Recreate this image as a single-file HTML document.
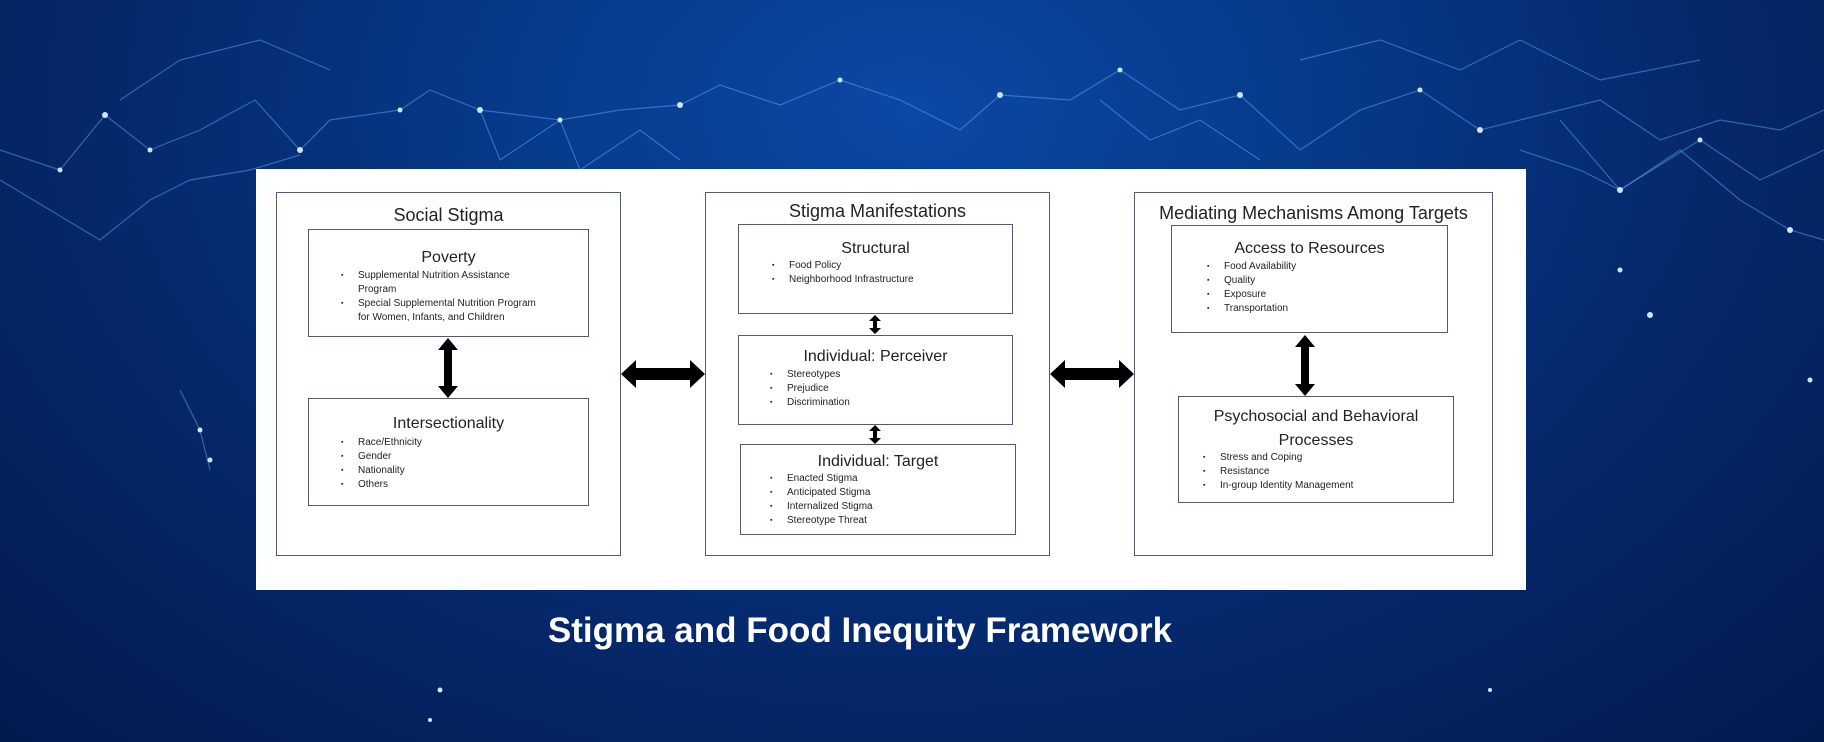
<!DOCTYPE html>
<html><head><meta charset="utf-8"><style>
*{margin:0;padding:0;box-sizing:border-box}
body{width:1824px;height:742px;overflow:hidden;position:relative;font-family:"Liberation Sans",sans-serif;
background:radial-gradient(ellipse at 50% 15%,#0a48a6 0%,#073a8a 30%,#05296c 60%,#031a4e 100%);}
.bg{position:absolute;left:0;top:0}
.panel{position:absolute;left:256px;top:169px;width:1270px;height:421px;background:#fff}
.b{position:absolute;border:1.5px solid #525b72;background:#fff}
.t{position:absolute;width:100%;text-align:center;color:#222;left:0}
.ot{font-size:18px}
.st{font-size:16px}
ul{position:absolute;list-style:none;font-size:10px;color:#222}
li{height:14px;line-height:14px;position:relative;white-space:nowrap}
li:before{content:"▪";position:absolute;left:-17px;font-size:7px}
.nb:before{content:""}
.title{position:absolute;left:530px;top:611px;width:660px;text-align:center;color:#fff;font-weight:bold;font-size:35px;white-space:nowrap}
</style></head><body>
<svg class="bg" width="1824" height="742">
<g stroke="#5aa8ff" stroke-opacity="0.5" stroke-width="1.2" fill="none">
<polyline points="0,150 60,170 105,115 150,150 200,130 255,100 300,150 330,120 400,110 430,90 480,110 560,120 620,110 680,105 720,85 780,105 840,80 900,100 960,130 1000,95 1070,100 1120,70 1180,110 1240,95 1300,150 1360,110 1420,90 1480,130 1540,115 1600,100 1660,140 1720,120 1780,130 1824,110"/>
<polyline points="0,180 50,210 100,240 150,200 190,180 250,170 300,155"/>
<polyline points="1520,150 1580,170 1620,190 1680,150 1740,200 1790,230 1824,240"/>
<polyline points="480,110 500,160 560,120 580,170 640,130 680,160"/>
<polyline points="1100,100 1150,140 1200,120 1260,160"/>
<polyline points="1560,120 1620,190 1700,140 1760,180 1824,150"/>
<polyline points="120,100 180,60 260,40 330,70"/>
<polyline points="1300,60 1380,40 1460,70 1520,40 1600,80 1700,60"/>
<polyline points="180,390 200,430 210,470"/>
</g>
<g fill="#cfe6ff">
<circle cx="105" cy="115" r="3"/><circle cx="150" cy="150" r="2.5"/><circle cx="300" cy="150" r="3"/><circle cx="400" cy="110" r="2.5"/><circle cx="480" cy="110" r="3"/><circle cx="560" cy="120" r="2.5"/><circle cx="680" cy="105" r="3"/><circle cx="840" cy="80" r="2.5"/><circle cx="1000" cy="95" r="3"/><circle cx="1120" cy="70" r="2.5"/><circle cx="1240" cy="95" r="3"/><circle cx="1420" cy="90" r="2.5"/><circle cx="1480" cy="130" r="3"/><circle cx="1620" cy="190" r="3"/><circle cx="1700" cy="140" r="2.5"/><circle cx="1790" cy="230" r="3"/><circle cx="1650" cy="315" r="3"/><circle cx="1620" cy="270" r="2.5"/><circle cx="60" cy="170" r="2.5"/><circle cx="200" cy="430" r="2.5"/><circle cx="210" cy="460" r="2.5"/><circle cx="440" cy="690" r="2.5"/><circle cx="430" cy="720" r="2"/><circle cx="1490" cy="690" r="2"/><circle cx="1810" cy="380" r="2.5"/>
</g>
</svg>
<div class="panel"></div>

<div class="b" style="left:276px;top:192px;width:345px;height:364px"><div class="t ot" style="top:12px">Social Stigma</div></div>
<div class="b" style="left:308px;top:229px;width:281px;height:108px"><div class="t st" style="top:19px">Poverty</div>
<ul style="left:49px;top:39px"><li>Supplemental Nutrition Assistance</li><li class="nb">Program</li><li>Special Supplemental Nutrition Program</li><li class="nb">for Women, Infants, and Children</li></ul></div>
<div class="b" style="left:308px;top:398px;width:281px;height:108px"><div class="t st" style="top:16px">Intersectionality</div>
<ul style="left:49px;top:37px"><li>Race/Ethnicity</li><li>Gender</li><li>Nationality</li><li>Others</li></ul></div>

<div class="b" style="left:705px;top:192px;width:345px;height:364px"><div class="t ot" style="top:8px">Stigma Manifestations</div></div>
<div class="b" style="left:738px;top:224px;width:275px;height:90px"><div class="t st" style="top:15px">Structural</div>
<ul style="left:50px;top:34px"><li>Food Policy</li><li>Neighborhood Infrastructure</li></ul></div>
<div class="b" style="left:738px;top:335px;width:275px;height:90px"><div class="t st" style="top:12px">Individual: Perceiver</div>
<ul style="left:48px;top:32px"><li>Stereotypes</li><li>Prejudice</li><li>Discrimination</li></ul></div>
<div class="b" style="left:740px;top:444px;width:276px;height:91px"><div class="t st" style="top:8px">Individual: Target</div>
<ul style="left:46px;top:27px"><li>Enacted Stigma</li><li>Anticipated Stigma</li><li>Internalized Stigma</li><li>Stereotype Threat</li></ul></div>

<div class="b" style="left:1134px;top:192px;width:359px;height:364px"><div class="t ot" style="top:10px">Mediating Mechanisms Among Targets</div></div>
<div class="b" style="left:1171px;top:225px;width:277px;height:108px"><div class="t st" style="top:14px">Access to Resources</div>
<ul style="left:52px;top:34px"><li>Food Availability</li><li>Quality</li><li>Exposure</li><li>Transportation</li></ul></div>
<div class="b" style="left:1178px;top:396px;width:276px;height:107px"><div class="t st" style="top:8px;line-height:24px">Psychosocial and Behavioral<br>Processes</div>
<ul style="left:41px;top:54px"><li>Stress and Coping</li><li>Resistance</li><li>In-group Identity Management</li></ul></div>

<svg class="bg" width="1824" height="742">
<g fill="#000">
<polygon points="621,374 636,360 636,368 690,368 690,360 705,374 690,388 690,380 636,380 636,388"/>
<polygon points="1050,374 1065,360 1065,368 1119,368 1119,360 1134,374 1119,388 1119,380 1065,380 1065,388"/>
<polygon points="448,338 458,350 452,350 452,386 458,386 448,398 438,386 444,386 444,350 438,350"/>
<polygon points="1305,335 1315,347 1309,347 1309,384 1315,384 1305,396 1295,384 1301,384 1301,347 1295,347"/>
<polygon points="875,315 881,321 877,321 877,328 881,328 875,334 869,328 873,328 873,321 869,321"/>
<polygon points="875,425 881,431 877,431 877,438 881,438 875,444 869,438 873,438 873,431 869,431"/>
</g>
</svg>
<div class="title">Stigma and Food Inequity Framework</div>
</body></html>
